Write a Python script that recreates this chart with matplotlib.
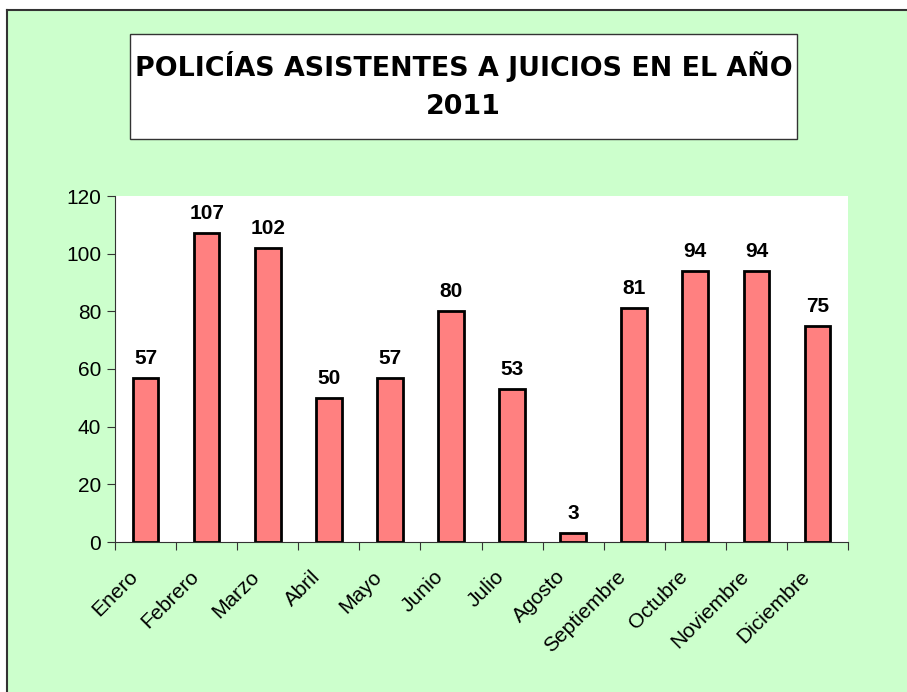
import matplotlib
matplotlib.use("Agg")
import matplotlib.pyplot as plt
from matplotlib.patches import Rectangle
from matplotlib.lines import Line2D

meses = ["Enero", "Febrero", "Marzo", "Abril", "Mayo", "Junio", "Julio",
         "Agosto", "Septiembre", "Octubre", "Noviembre", "Diciembre"]
policias = [57, 107, 102, 50, 57, 80, 53, 3, 81, 94, 94, 75]
yticks = [0, 20, 40, 60, 80, 100, 120]

fig = plt.figure(figsize=(9.07, 6.92), dpi=100)
fig.patch.set_facecolor("white")

# green background with black border on top/left
fig.patches.append(Rectangle((7 / 907, 0), 1, 1 - 10 / 692, transform=fig.transFigure,
                             facecolor="#CCFFCC", edgecolor="none", zorder=-5))
fig.lines.append(Line2D([7 / 907, 1], [1 - 10 / 692, 1 - 10 / 692], transform=fig.transFigure,
                        color="#333333", lw=1.5, zorder=-4))
fig.lines.append(Line2D([7 / 907, 7 / 907], [0, 1 - 10 / 692], transform=fig.transFigure,
                        color="#333333", lw=1.5, zorder=-4))

# title box
fig.patches.append(Rectangle((130 / 907, 1 - 139 / 692), 667 / 907, 105 / 692,
                             transform=fig.transFigure, facecolor="white",
                             edgecolor="#333333", lw=1, zorder=1))
fig.text(463.5 / 907, 1 - 67 / 692, "POLICÍAS ASISTENTES A JUICIOS EN EL AÑO",
         ha="center", va="center", fontsize=19.4, fontweight="bold", zorder=2)
fig.text(463.5 / 907, 1 - 107 / 692, "2011",
         ha="center", va="center", fontsize=19.4, fontweight="bold", zorder=2)

ax = fig.add_axes([115 / 907, 1 - 542 / 692, 733 / 907, 346 / 692])
ax.set_zorder(3)
ax.set_facecolor("white")
x = list(range(len(meses)))
bars = ax.bar(x, policias, width=0.42, color="#FF8080", edgecolor="black", linewidth=2)
for xi, v in zip(x, policias):
    ax.text(xi, v + 3.5, str(v), ha="center", va="bottom", fontsize=15,
            fontweight="bold", family="Liberation Sans")

ax.set_xlim(-0.5, len(meses) - 0.5)
ax.set_ylim(0, 120)
ax.set_yticks(yticks)
ax.set_yticklabels([str(t) for t in yticks], fontsize=15, family="Liberation Sans")
ax.set_xticks([i - 0.5 for i in range(len(meses) + 1)])
ax.set_xticklabels([])

# month labels, rotated, ending a bit left of each category centre
for xi, m in zip(x, meses):
    ax.text(xi - 0.29, -0.072, m, transform=ax.get_xaxis_transform(), rotation=45,
            ha="right", va="top", rotation_mode="anchor", fontsize=15,
            family="Liberation Sans", clip_on=False)

ax.tick_params(axis="x", which="major", length=6, color="#333333")
ax.tick_params(axis="y", length=6, color="#333333", pad=4)
for s in ["top", "right"]:
    ax.spines[s].set_visible(False)
for s in ["left", "bottom"]:
    ax.spines[s].set_color("#333333")

fig.savefig("out.png", dpi=100)
